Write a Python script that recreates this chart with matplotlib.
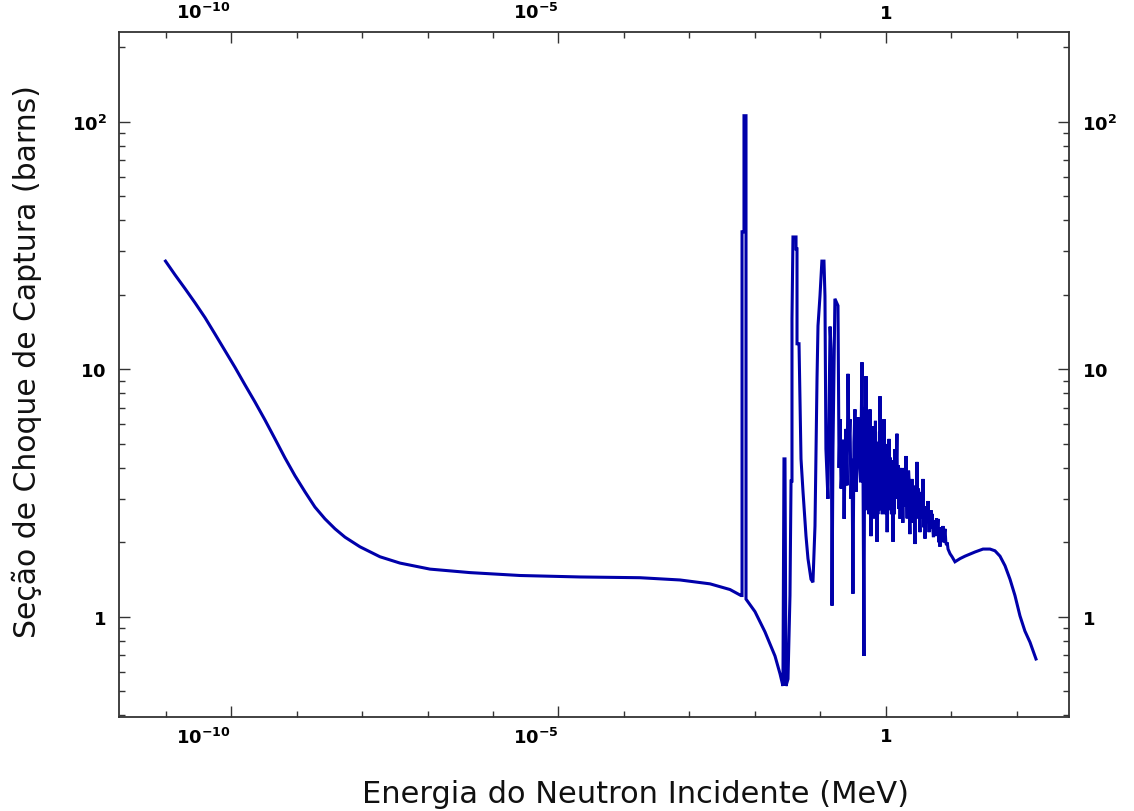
import numpy as np
import matplotlib
matplotlib.use("Agg")
import matplotlib.pyplot as plt
from matplotlib.ticker import FixedLocator, LogLocator, NullFormatter

# ---- data ----
# smooth thermal / epithermal part
energy_thermal = [
    1.0e-11, 1.40e-11, 1.99e-11, 2.82e-11, 4.01e-11, 5.70e-11, 8.09e-11,
    1.15e-10, 1.64e-10, 2.32e-10, 3.30e-10, 4.70e-10, 6.67e-10, 9.48e-10,
    1.35e-9, 1.91e-9, 2.72e-9, 3.87e-9, 5.50e-9, 9.31e-9, 1.88e-8, 3.80e-8,
    1.09e-7, 4.46e-7, 2.58e-6, 2.13e-5, 1.75e-4, 7.16e-4, 2.06e-3, 4.15e-3,
    6.11e-3,
]
sigma_thermal = [
    27.4, 24.1, 21.2, 18.6, 16.2, 13.9, 11.9,
    10.2, 8.65, 7.39, 6.25, 5.24, 4.39, 3.72,
    3.20, 2.78, 2.49, 2.27, 2.10, 1.92, 1.75, 1.65,
    1.56, 1.51, 1.47, 1.45, 1.44, 1.41, 1.36, 1.29,
    1.22,
]
# resolved resonances
energy_resolved = [
    6.34e-3, 6.34e-3, 6.79e-3, 6.79e-3, 7.29e-3, 7.29e-3,
    7.82e-3, 1.0e-2, 1.42e-2, 2.02e-2, 2.41e-2, 2.67e-2,
    2.77e-2, 2.87e-2, 2.97e-2, 3.19e-2, 3.42e-2, 3.55e-2, 3.67e-2, 3.67e-2,
    3.80e-2, 4.23e-2, 4.23e-2, 4.38e-2, 4.38e-2, 4.70e-2, 4.86e-2, 5.04e-2,
    5.41e-2, 6.01e-2, 6.44e-2, 7.16e-2, 7.67e-2, 8.24e-2, 8.85e-2, 9.16e-2,
    9.82e-2, 0.105, 0.113, 0.117, 0.121, 0.130, 0.140, 0.145, 0.150, 0.155,
    0.166, 0.185, 0.192, 0.199, 0.206, 0.213, 0.221, 0.229, 0.237, 0.245,
    0.254, 0.263, 0.272, 0.282, 0.292, 0.303, 0.313, 0.324,
    0.336, 0.348, 0.361, 0.374, 0.387, 0.408, 0.430, 0.445, 0.461,
]
sigma_resolved = [
    1.22, 36.0, 36.0, 106, 106, 1.18,
    1.15, 1.05, 0.87, 0.695, 0.589, 0.526,
    4.35, 4.35, 0.526, 0.561, 1.22, 3.54, 3.54, 16.0,
    34.3, 34.3, 30.7, 30.7, 12.7, 12.7, 7.6, 4.35,
    3.2, 2.12, 1.72, 1.42, 1.38, 2.33, 9.2, 15.0,
    19.8, 27.4, 27.4, 19.8, 4.77, 3.0, 14.9, 12.1, 1.11, 4.77,
    19.3, 18.1, 4.0, 6.3, 3.3, 3.96, 5.2, 2.49, 4.3, 5.75,
    3.4, 9.6, 4.8, 6.3, 3.0, 4.35, 1.24, 5.1,
    6.9, 3.2, 3.96, 6.4, 5.75, 3.5, 10.7, 4.2, 0.695,
]
# dense region (~0.47 - 11 MeV)
energy_dense = [
    0.470, 0.474, 0.478, 0.482, 0.487, 0.491, 0.495, 0.499, 0.503, 0.507,
    0.51, 0.515, 0.52, 0.525, 0.531, 0.535, 0.54, 0.545, 0.55, 0.555, 0.56,
    0.565, 0.570, 0.575, 0.58, 0.585, 0.590, 0.595, 0.60, 0.605, 0.61, 0.615,
    0.62, 0.627, 0.634, 0.640, 0.645, 0.650, 0.655, 0.661, 0.667, 0.673,
    0.679, 0.684, 0.69, 0.695, 0.70, 0.708, 0.715, 0.722, 0.729, 0.737,
    0.745, 0.752, 0.76, 0.765, 0.77, 0.775, 0.78, 0.788, 0.795, 0.802, 0.810,
    0.818, 0.825, 0.832, 0.84, 0.848, 0.855, 0.862, 0.869, 0.877, 0.885,
    0.893, 0.90, 0.908, 0.915, 0.924, 0.932, 0.944, 0.955, 0.968, 0.98,
    0.99, 1.00, 1.01, 1.02, 1.03, 1.04,
    1.055, 1.07, 1.09, 1.11, 1.13, 1.15, 1.17, 1.19, 1.21, 1.23,
    1.255, 1.28, 1.30, 1.32, 1.345, 1.37, 1.395, 1.42, 1.445, 1.47, 1.495,
    1.52, 1.55, 1.58, 1.61, 1.64, 1.67, 1.70, 1.725, 1.75, 1.78, 1.81,
    1.845, 1.88, 1.915, 1.95, 1.985, 2.02, 2.06, 2.10, 2.135, 2.17, 2.21,
    2.25, 2.285, 2.32, 2.36, 2.40, 2.445, 2.49, 2.55, 2.62, 2.70, 2.77,
    2.82, 2.87, 2.92, 2.97, 3.02, 3.08, 3.13, 3.19, 3.25, 3.30, 3.36, 3.42,
    3.48, 3.55, 3.61, 3.67, 3.74, 3.80, 3.87, 3.94, 4.05, 4.15, 4.27, 4.38,
    4.47, 4.55, 4.62, 4.70, 4.79, 4.87, 4.95, 5.04, 5.17, 5.30, 5.45, 5.60,
    5.75, 5.90, 6.05, 6.22, 6.35, 6.45, 6.55, 6.67, 6.85, 7.0, 7.2, 7.41,
    7.55, 7.70, 7.85, 7.96, 8.2, 8.4, 8.6, 8.85, 9.5, 10.2, 11.3,
]
sigma_dense = [
    4.0, 2.8, 7.0, 5.5, 3.6, 4.2, 9.4, 3.0, 4.5, 6.0,
    3.3, 2.7, 5.6, 4.0, 4.77, 5.8, 2.9, 3.8, 2.6, 4.4, 5.2,
    3.0, 6.9, 5.0, 3.4, 4.4, 2.12, 5.3, 4.6, 2.8, 3.8, 4.9,
    5.9, 3.3, 5.75, 4.5, 3.1, 5.2, 2.5, 3.4, 4.8, 2.7,
    3.96, 4.3, 6.2, 3.2, 5.0, 4.4, 2.8, 3.6, 2.01, 5.1,
    3.9, 2.6, 4.5, 3.5, 2.9, 5.0, 3.0, 4.0, 5.6, 3.5, 7.8,
    5.5, 4.6, 2.7, 3.3, 6.0, 4.9, 4.0, 3.0, 2.6, 4.2,
    3.6, 5.4, 4.6, 3.4, 2.9, 6.3, 4.5, 3.8, 5.0, 2.6,
    3.5, 4.2, 2.9, 3.2, 3.6, 2.20,
    3.6, 4.0, 2.9, 5.24, 3.4, 2.7, 4.4, 3.61, 2.6, 4.3,
    3.3, 2.01, 3.9, 3.5, 2.6, 4.77, 3.5, 3.2, 4.4, 5.5, 3.3,
    3.0, 4.1, 2.73, 3.7, 2.49, 3.5, 4.0, 2.9, 3.96, 3.1, 2.4,
    3.5, 3.0, 4.0, 3.8, 2.8, 4.47, 3.2, 2.5, 3.7, 2.86, 3.9,
    3.6, 2.5, 2.16, 3.1, 3.3, 2.6, 3.61, 2.7, 2.4, 3.1, 1.97,
    2.9, 3.4, 2.6, 4.23, 3.2, 2.5, 3.3, 3.0, 2.6, 2.2, 2.9, 2.49,
    2.9, 3.2, 2.6, 3.61, 2.7, 2.3, 2.8, 2.07, 2.6, 2.8, 2.4, 2.94,
    2.5, 2.2, 2.6, 2.27, 2.5, 2.7, 2.4, 2.61, 2.3, 2.1, 2.45, 2.12,
    2.3, 2.5, 2.2, 2.49, 2.15, 2.0, 2.25, 1.92, 2.2, 2.3, 2.05, 2.33,
    2.1, 2.0, 2.2, 2.27, 2.0, 1.95, 2.0, 1.88, 1.8, 1.75, 1.67,
]
# smooth fast part
energy_fast = [13.5, 16.1, 22.9, 30.3, 38.7, 46.1, 55.0, 65.6, 78.2, 93.1,
               111, 132, 158, 195]
sigma_fast = [1.72, 1.76, 1.83, 1.88, 1.88, 1.85, 1.76, 1.61, 1.42, 1.22,
              1.01, 0.877, 0.79, 0.676]

x_major_ticks = [1e-10, 1e-5, 1.0]
x_major_labels = [r"$\mathbf{10^{-10}}$", r"$\mathbf{10^{-5}}$", r"$\mathbf{1}$"]
y_major_ticks = [1.0, 10.0, 100.0]
y_major_labels = [r"$\mathbf{1}$", r"$\mathbf{10}$", r"$\mathbf{10^{2}}$"]

xlabel_text = "Energia do Neutron Incidente (MeV)"
ylabel_text = "Seção de Choque de Captura (barns)"

energy_mev = energy_thermal + energy_resolved + energy_dense + energy_fast
sigma_barns = sigma_thermal + sigma_resolved + sigma_dense + sigma_fast

# ---- figure ----
W, H = 1134, 812
fig = plt.figure(figsize=(W / 100, H / 100), dpi=100)
fig.patch.set_facecolor("white")
ax = fig.add_axes([119 / W, 1 - 718 / H, (1069 - 119) / W, (718 - 33) / H])

ax.plot(energy_mev, sigma_barns, color="#0000AA", lw=2.2, solid_joinstyle="miter")

ax.set_xscale("log")
ax.set_yscale("log")
ax.set_xlim(10 ** -11.71, 10 ** 2.794)
ax.set_ylim(0.394, 231)

ax.xaxis.set_major_locator(FixedLocator(x_major_ticks))
ax.xaxis.set_minor_locator(LogLocator(base=10, subs=(1.0,), numticks=40))
ax.xaxis.set_minor_formatter(NullFormatter())
ax.yaxis.set_major_locator(FixedLocator(y_major_ticks))
ax.yaxis.set_minor_locator(LogLocator(base=10, subs=np.arange(2, 10), numticks=40))
ax.yaxis.set_minor_formatter(NullFormatter())

ax.set_xticks(x_major_ticks)
ax.set_xticklabels(x_major_labels)
ax.set_yticks(y_major_ticks)
ax.set_yticklabels(y_major_labels)

ax.tick_params(which="both", direction="in", top=True, right=True,
               labeltop=True, labelright=True, color="#333333", width=1.0)
ax.tick_params(which="major", length=8, labelsize=13)
ax.tick_params(which="minor", length=4.5)
ax.tick_params(axis="x", which="major", pad=7)
ax.tick_params(axis="y", which="major", pad=9)

for tk, t in zip(ax.xaxis.get_major_ticks(), x_major_ticks):
    if t != 1.0:
        tk.label1.set_ha("right")
        tk.label2.set_ha("right")

for sp in ax.spines.values():
    sp.set_color("#333333")
    sp.set_linewidth(1.3)

fig.text(636 / W, 1 - 795 / H, xlabel_text, ha="center", va="center",
         fontsize=22, family="DejaVu Sans", color="#111111")
fig.text(27 / W, 1 - 362 / H, ylabel_text, ha="center", va="center",
         rotation=90, fontsize=21.5, family="DejaVu Sans", color="#111111")

fig.savefig("out.png", dpi=100, facecolor="white")
